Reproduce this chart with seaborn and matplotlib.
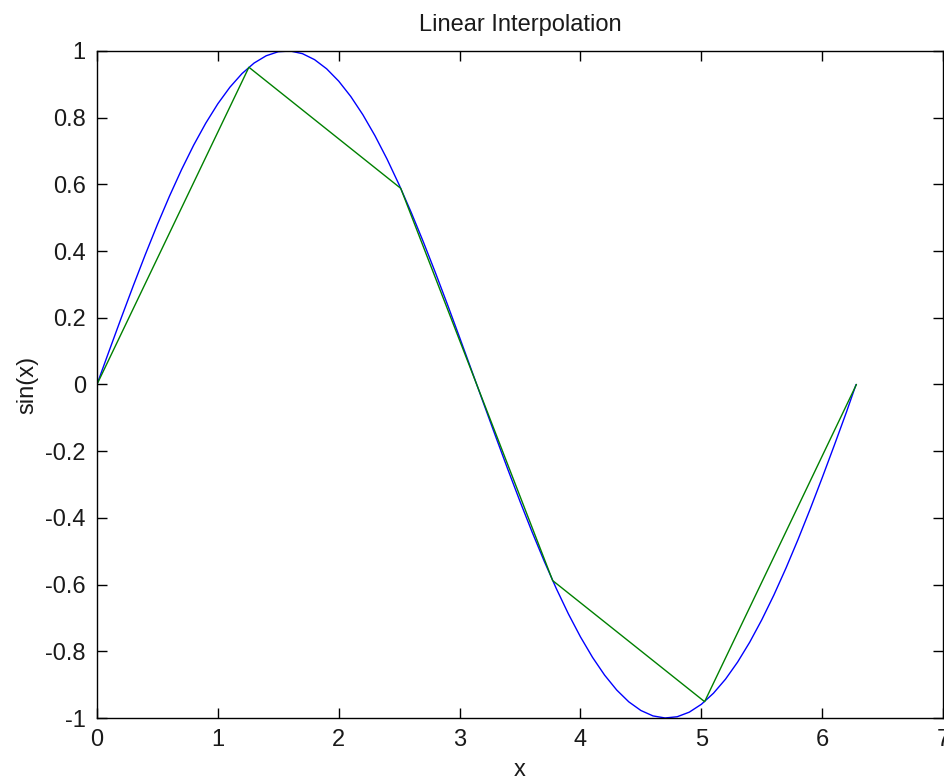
import numpy as np
import pandas as pd
import seaborn as sns

import matplotlib.pyplot as plt

# blue curve: sin(x)
curve_x = [0.0, 0.1, 0.2, 0.3, 0.4, 0.5, 0.6, 0.7, 0.8, 0.9, 1.0, 1.1, 1.2, 1.3, 1.4, 1.5,
           1.6, 1.7, 1.8, 1.9, 2.0, 2.1, 2.2, 2.3, 2.4, 2.5, 2.6, 2.7, 2.8, 2.9, 3.0, 3.1,
           3.2, 3.3, 3.4, 3.5, 3.6, 3.7, 3.8, 3.9, 4.0, 4.1, 4.2, 4.3, 4.4, 4.5, 4.6, 4.7,
           4.8, 4.9, 5.0, 5.1, 5.2, 5.3, 5.4, 5.5, 5.6, 5.7, 5.8, 5.9, 6.0, 6.1, 6.2, 6.28]
curve_y = [0.0, 0.0998, 0.1987, 0.2955, 0.3894, 0.4794, 0.5646, 0.6442, 0.7174, 0.7833,
           0.8415, 0.8912, 0.9320, 0.9636, 0.9854, 0.9975, 0.9996, 0.9917, 0.9738, 0.9463,
           0.9093, 0.8632, 0.8085, 0.7457, 0.6755, 0.5985, 0.5155, 0.4274, 0.3350, 0.2392,
           0.1411, 0.0416, -0.0584, -0.1577, -0.2555, -0.3508, -0.4425, -0.5298, -0.6119,
           -0.6878, -0.7568, -0.8183, -0.8716, -0.9162, -0.9516, -0.9775, -0.9937, -0.9999,
           -0.9962, -0.9825, -0.9589, -0.9258, -0.8835, -0.8323, -0.7728, -0.7055, -0.6313,
           -0.5507, -0.4646, -0.3739, -0.2794, -0.1822, -0.0831, 0.0]

# green: linear interpolation through 6 nodes
nodes_x = [0.0, 1.257, 2.513, 3.770, 5.027, 6.283]
nodes_y = [0.0, 0.951, 0.588, -0.588, -0.951, 0.0]

xticks = [0, 1, 2, 3, 4, 5, 6, 7]
yticks = [-1, -0.8, -0.6, -0.4, -0.2, 0, 0.2, 0.4, 0.6, 0.8, 1]
ytick_labels = ['-1', '-0.8', '-0.6', '-0.4', '-0.2', '0', '0.2', '0.4', '0.6', '0.8', '1']

sns.set_style('ticks')
plt.rcParams['font.family'] = ['Liberation Sans', 'DejaVu Sans']
plt.rcParams['axes.unicode_minus'] = False

fig = plt.figure(figsize=(9.45, 7.83), dpi=100)
ax = fig.add_axes([0.1026, 0.083, 0.8954, 0.852])

curve = pd.DataFrame({'x': curve_x, 'y': curve_y})
nodes = pd.DataFrame({'x': nodes_x, 'y': nodes_y})
sns.lineplot(data=curve, x='x', y='y', ax=ax, color='#0000ff', linewidth=1.0, sort=False)
sns.lineplot(data=nodes, x='x', y='y', ax=ax, color='#008000', linewidth=1.0, sort=False)

ax.set_xlim(0, 7)
ax.set_ylim(-1, 1)
ax.set_xticks(xticks)
ax.set_xticklabels([str(t) for t in xticks])
ax.set_yticks(yticks)
ax.set_yticklabels(ytick_labels)
ax.tick_params(direction='in', top=True, right=True, length=7, width=1,
               labelsize=17, pad=8, color='black', labelcolor='#1a1a1a')
for s in ax.spines.values():
    s.set_visible(True)
    s.set_color('black')
    s.set_linewidth(1)

ax.set_title('Linear Interpolation', fontsize=17, pad=14, color='#1a1a1a')
ax.set_xlabel('x', fontsize=17, labelpad=6, color='#1a1a1a')
ax.set_ylabel('sin(x)', fontsize=17, labelpad=5, color='#1a1a1a')

fig.savefig('out.png', dpi=100)
